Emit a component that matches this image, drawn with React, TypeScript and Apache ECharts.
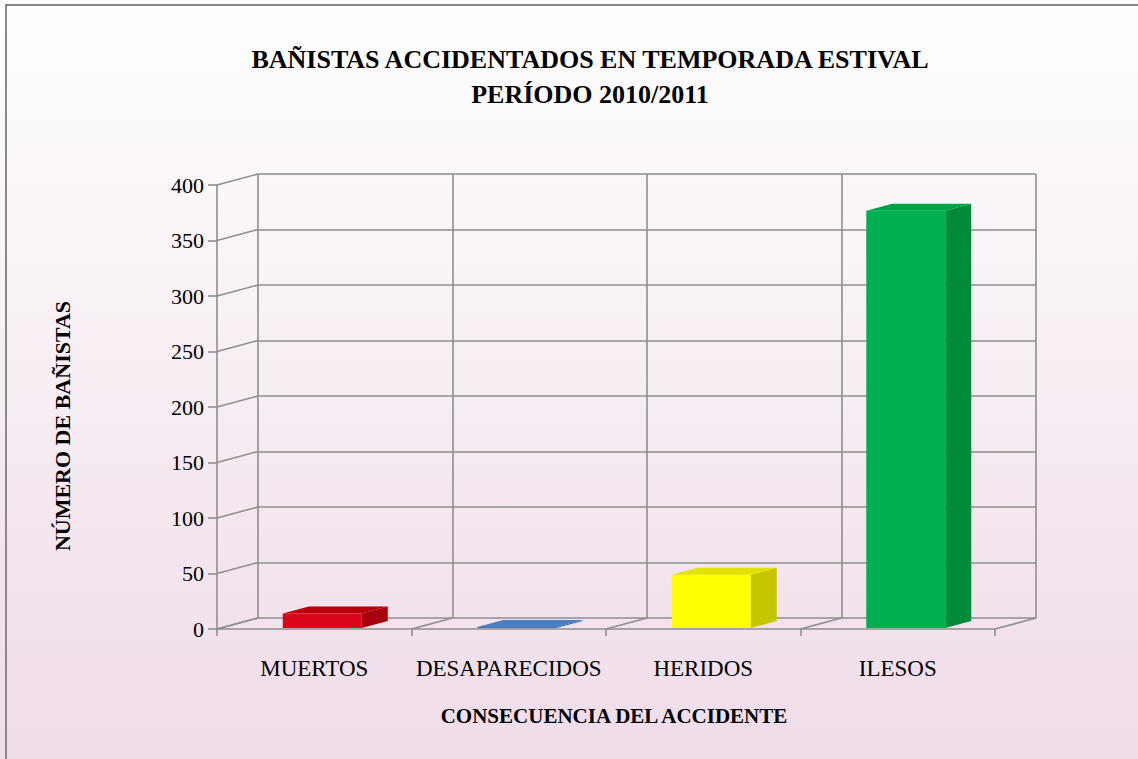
import React, { useEffect, useRef } from "react";
import * as echarts from "echarts";

const categories = ["MUERTOS", "DESAPARECIDOS", "HERIDOS", "ILESOS"];
const values = [13, 1, 48, 376];
const yTicks = [0, 50, 100, 150, 200, 250, 300, 350, 400];
const boundaries = [0, 1, 2, 3, 4];

const titleLines = ["BAÑISTAS ACCIDENTADOS EN TEMPORADA ESTIVAL", "PERÍODO 2010/2011"];
const yAxisName = "NÚMERO DE BAÑISTAS";
const xAxisName = "CONSECUENCIA DEL ACCIDENTE";

const barColors = [
  { front: "#d8061a", top: "#b8000f", side: "#a5000c" },
  { front: "#3f72b5", top: "#4a7fc4", side: "#2f5f9e" },
  { front: "#ffff00", top: "#e2e200", side: "#c6c600" },
  { front: "#00b050", top: "#00a248", side: "#008a3a" },
];

const FONT = "'Liberation Serif', 'DejaVu Serif', serif";
const DEPTH_X = 41;
const DEPTH_Y = -11;
const BAR_DX = 26;
const BAR_DY = -7;
const FACE_DX = 8;
const FACE_DY = -1;
const LINE = "#8e8e8e";
const LW = 1.6;

export default function App() {
  const ref = useRef<HTMLDivElement>(null);
  useEffect(() => {
    document.body.style.margin = "0";
    const chart = echarts.init(ref.current!, null, { renderer: "svg" });
    const frontLeft = 217, frontTop = 185, frontW = 778, frontH = 444;
    const option: any = {
      animation: false,
      graphic: [
        {
          type: "rect",
          silent: true,
          z: -10,
          shape: { x: 0, y: 0, width: 1138, height: 759 },
          style: {
            fill: new echarts.graphic.LinearGradient(0, 0, 0, 1, [
              { offset: 0, color: "#ffffff" },
              { offset: 1, color: "#efdce9" },
            ]),
          },
        },
        {
          type: "rect",
          silent: true,
          z: -9,
          shape: { x: 6, y: 5, width: 1150, height: 770 },
          style: { fill: "none", stroke: "#898989", lineWidth: 2 },
        },
        {
          type: "text",
          x: 590,
          y: 42,
          style: {
            text: titleLines.join("\n"),
            font: `bold 26px ${FONT}`,
            fill: "#000",
            align: "center",
            verticalAlign: "top",
            lineHeight: 35,
          },
        },
        {
          type: "text",
          x: 62,
          y: 426,
          rotation: Math.PI / 2,
          style: {
            text: yAxisName,
            font: `bold 22px ${FONT}`,
            fill: "#000",
            align: "center",
            verticalAlign: "middle",
          },
        },
        {
          type: "text",
          x: 614,
          y: 716,
          style: {
            text: xAxisName,
            font: `bold 21px ${FONT}`,
            fill: "#000",
            align: "center",
            verticalAlign: "middle",
          },
        },
      ],
      grid: [
        { left: frontLeft, top: frontTop, width: frontW, height: frontH },
        { left: frontLeft + DEPTH_X, top: frontTop + DEPTH_Y, width: frontW, height: frontH },
      ],
      xAxis: [
        {
          type: "category",
          gridIndex: 0,
          data: categories,
          axisLine: { show: true, lineStyle: { color: LINE, width: LW } },
          axisTick: { show: true, length: 7, lineStyle: { color: LINE, width: LW } },
          axisLabel: { color: "#000", fontFamily: FONT, fontSize: 23, margin: 28, interval: 0 },
          splitLine: { show: false },
        },
        {
          type: "category",
          gridIndex: 1,
          data: categories,
          axisLine: { show: false },
          axisTick: { show: false },
          axisLabel: { show: false },
          splitLine: { show: true, interval: 0, lineStyle: { color: LINE, width: LW } },
        },
      ],
      yAxis: [
        {
          type: "value",
          gridIndex: 0,
          min: 0,
          max: 400,
          interval: 50,
          axisLine: { show: true, lineStyle: { color: LINE, width: LW } },
          axisTick: { show: true, length: 9, lineStyle: { color: LINE, width: LW } },
          axisLabel: { color: "#000", fontFamily: FONT, fontSize: 22, margin: 13 },
          splitLine: { show: false },
        },
        {
          type: "value",
          gridIndex: 1,
          min: 0,
          max: 400,
          interval: 50,
          axisLine: { show: false },
          axisTick: { show: false },
          axisLabel: { show: false },
          splitLine: { show: true, lineStyle: { color: LINE, width: LW } },
        },
      ],
      series: [
        {
          type: "custom",
          xAxisIndex: 0,
          yAxisIndex: 0,
          clip: false,
          silent: true,
          z: 1,
          data: yTicks.map((v) => [0, v]),
          renderItem: (params: any, api: any) => {
            const v = api.value(1);
            const p = api.coord([0, v]);
            const bw = api.size([1, 0])[0];
            const x = p[0] - bw / 2;
            return {
              type: "line",
              shape: { x1: x, y1: p[1], x2: x + DEPTH_X, y2: p[1] + DEPTH_Y },
              style: { stroke: LINE, lineWidth: LW },
            };
          },
        },
        {
          type: "custom",
          xAxisIndex: 0,
          yAxisIndex: 0,
          clip: false,
          silent: true,
          z: 1,
          data: boundaries.map((b) => [0, 0, b]),
          renderItem: (params: any, api: any) => {
            const b = api.value(2);
            const p = api.coord([0, 0]);
            const bw = api.size([1, 0])[0];
            const x = p[0] - bw / 2 + b * bw;
            return {
              type: "line",
              shape: { x1: x, y1: p[1], x2: x + DEPTH_X, y2: p[1] + DEPTH_Y },
              style: { stroke: LINE, lineWidth: LW },
            };
          },
        },
        {
          type: "custom",
          xAxisIndex: 0,
          yAxisIndex: 0,
          clip: false,
          z: 5,
          data: values.map((v, i) => [i, v]),
          renderItem: (params: any, api: any) => {
            const i = api.value(0);
            const v = api.value(1);
            const base = api.coord([i, 0]);
            const top = api.coord([i, v]);
            const bw = api.size([1, 0])[0];
            const w = bw * 0.406;
            const cx = base[0] + FACE_DX;
            const xl = cx - w / 2;
            const xr = cx + w / 2;
            const y0 = base[1] + FACE_DY;
            const y1 = top[1] + FACE_DY;
            const c = barColors[i];
            return {
              type: "group",
              children: [
                {
                  type: "polygon",
                  shape: {
                    points: [
                      [xr, y1],
                      [xr + BAR_DX, y1 + BAR_DY],
                      [xr + BAR_DX, y0 + BAR_DY],
                      [xr, y0],
                    ],
                  },
                  style: { fill: c.side },
                },
                {
                  type: "polygon",
                  shape: {
                    points: [
                      [xl, y1],
                      [xr, y1],
                      [xr + BAR_DX, y1 + BAR_DY],
                      [xl + BAR_DX, y1 + BAR_DY],
                    ],
                  },
                  style: { fill: c.top },
                },
                {
                  type: "rect",
                  shape: { x: xl, y: y1, width: w, height: Math.max(y0 - y1, 0.5) },
                  style: { fill: c.front },
                },
              ],
            };
          },
        },
      ],
    };
    chart.setOption(option);
    return () => chart.dispose();
  }, []);
  return <div ref={ref} style={{ width: 1138, height: 759 }} />;
}
